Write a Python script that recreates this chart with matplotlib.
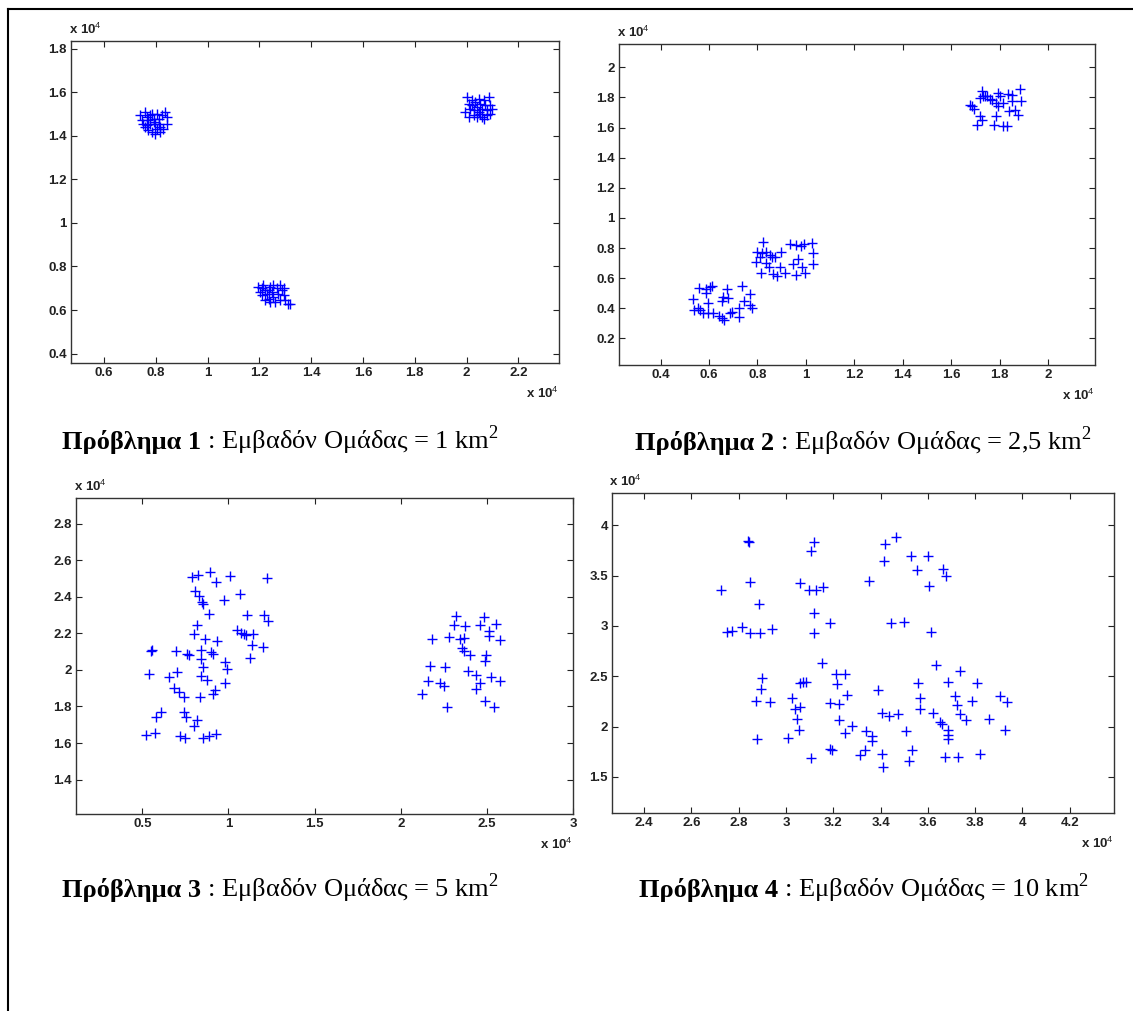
import matplotlib
matplotlib.use("Agg")
import matplotlib.pyplot as plt
from matplotlib.lines import Line2D

plt.rcParams['mathtext.fontset'] = 'custom'
plt.rcParams['mathtext.rm'] = 'Liberation Serif'
plt.rcParams['mathtext.sf'] = 'Liberation Sans'

# ---------------- data (units of 10^4) ----------------
# Problem 1
p1_ax = [0.739, 0.746, 0.758, 0.765, 0.771, 0.778, 0.784, 0.791, 0.797, 0.803, 0.810, 0.816, 0.823, 0.836,
         0.842, 0.842, 0.758, 0.771, 0.784, 0.797, 0.816, 0.829, 0.752, 0.765, 0.803, 0.778, 0.791, 0.810]
p1_ay = [1.494, 1.471, 1.509, 1.486, 1.471, 1.494, 1.502, 1.479, 1.456, 1.502, 1.479, 1.440, 1.494, 1.509,
         1.486, 1.456, 1.440, 1.425, 1.417, 1.410, 1.417, 1.433, 1.456, 1.448, 1.433, 1.456, 1.463, 1.456]
p1_bx = [2.002, 2.008, 2.014, 1.995, 2.021, 2.027, 2.034, 2.040, 2.047, 2.053, 2.060, 2.066, 2.072, 2.079,
         2.085, 2.092, 2.098, 2.027, 2.040, 2.053, 2.066, 2.079, 2.008, 2.021, 2.047, 2.060, 2.092]
p1_by = [1.578, 1.548, 1.525, 1.509, 1.540, 1.517, 1.555, 1.532, 1.509, 1.548, 1.525, 1.563, 1.540, 1.517,
         1.578, 1.540, 1.525, 1.494, 1.486, 1.502, 1.479, 1.494, 1.486, 1.563, 1.571, 1.486, 1.502]
p1_cx = [1.196, 1.202, 1.209, 1.215, 1.222, 1.228, 1.235, 1.241, 1.248, 1.254, 1.260, 1.267, 1.273, 1.280,
         1.286, 1.293, 1.299, 1.312, 1.222, 1.241, 1.280, 1.209, 1.254, 1.293, 1.235, 1.318]
p1_cy = [0.706, 0.683, 0.668, 0.714, 0.691, 0.676, 0.653, 0.706, 0.683, 0.660, 0.637, 0.699, 0.676, 0.714,
         0.691, 0.668, 0.645, 0.630, 0.645, 0.637, 0.645, 0.699, 0.714, 0.699, 0.691, 0.628]

# Problem 2
p2_ax = [1.727, 1.732, 1.739, 1.717, 1.770, 1.792, 1.800, 1.834, 1.886, 1.785, 1.792, 1.815, 1.852, 1.890,
         1.679, 1.687, 1.694, 1.717, 1.727, 1.706, 1.777, 1.815, 1.830, 1.785, 1.837, 1.864, 1.875, 1.762,
         1.852, 1.747]
p2_ay = [1.840, 1.807, 1.807, 1.796, 1.785, 1.829, 1.812, 1.823, 1.856, 1.763, 1.745, 1.763, 1.774, 1.774,
         1.752, 1.741, 1.725, 1.674, 1.648, 1.619, 1.614, 1.608, 1.608, 1.679, 1.707, 1.718, 1.685, 1.789,
         1.818, 1.807]
p2_bx = [0.823, 0.798, 0.817, 0.835, 0.850, 0.873, 0.896, 0.793, 0.835, 0.846, 0.816, 0.866, 0.881, 0.891,
         0.914, 0.933, 0.960, 0.979, 0.991, 1.027, 0.966, 0.948, 0.982, 0.960, 0.997, 1.031, 1.031, 0.858,
         0.810]
p2_by = [0.838, 0.776, 0.765, 0.776, 0.754, 0.743, 0.776, 0.710, 0.703, 0.677, 0.637, 0.628, 0.615, 0.677,
         0.637, 0.825, 0.821, 0.814, 0.825, 0.832, 0.729, 0.696, 0.677, 0.621, 0.637, 0.770, 0.692, 0.738,
         0.743]
p2_cx = [0.534, 0.539, 0.557, 0.564, 0.575, 0.587, 0.587, 0.594, 0.594, 0.605, 0.614, 0.617, 0.643, 0.655,
         0.659, 0.662, 0.655, 0.674, 0.677, 0.685, 0.695, 0.722, 0.725, 0.734, 0.745, 0.771, 0.771, 0.778,
         0.554]
p2_cy = [0.462, 0.388, 0.532, 0.388, 0.371, 0.526, 0.499, 0.437, 0.371, 0.539, 0.548, 0.366, 0.348, 0.448,
         0.477, 0.322, 0.333, 0.530, 0.470, 0.366, 0.377, 0.340, 0.399, 0.550, 0.448, 0.495, 0.422, 0.404,
         0.399]

# Problem 3
p3_ax = [0.788, 0.826, 0.891, 0.926, 1.011, 1.226, 0.806, 0.828, 0.847, 0.854, 0.974, 1.066, 0.887, 1.105,
         1.204, 1.230, 0.815, 0.799, 0.861, 0.933, 1.051, 1.073, 1.090, 1.099, 1.145, 1.134, 1.199, 1.123,
         0.548, 0.559, 0.697, 0.760, 0.773, 0.843, 0.898, 0.913, 0.839, 0.850, 0.979, 0.992, 0.537, 0.653,
         0.701, 0.843, 0.876, 0.981, 0.684, 0.712, 0.740, 0.832, 0.909, 0.924, 0.607, 0.581, 0.740, 0.751,
         0.815, 0.799, 0.520, 0.574, 0.716, 0.745, 0.854, 0.887, 0.926]
p3_ay = [2.508, 2.521, 2.536, 2.481, 2.516, 2.503, 2.430, 2.403, 2.370, 2.363, 2.381, 2.414, 2.308, 2.299,
         2.299, 2.266, 2.244, 2.197, 2.171, 2.157, 2.220, 2.202, 2.198, 2.189, 2.198, 2.135, 2.126, 2.065,
         2.105, 2.111, 2.102, 2.089, 2.084, 2.111, 2.096, 2.089, 2.060, 2.016, 2.042, 2.005, 1.978, 1.962,
         1.987, 1.965, 1.943, 1.929, 1.901, 1.879, 1.852, 1.852, 1.870, 1.892, 1.768, 1.743, 1.768, 1.743,
         1.728, 1.695, 1.642, 1.655, 1.637, 1.628, 1.628, 1.641, 1.652]
p3_bx = [2.318, 2.307, 2.373, 2.482, 2.460, 2.554, 2.510, 2.510, 2.183, 2.281, 2.344, 2.366, 2.576, 2.355,
         2.366, 2.401, 2.497, 2.489, 2.170, 2.257, 2.388, 2.438, 2.526, 2.574, 2.159, 2.226, 2.253, 2.460,
         2.438, 2.126, 2.270, 2.489, 2.541]
p3_by = [2.293, 2.248, 2.242, 2.288, 2.244, 2.253, 2.211, 2.188, 2.171, 2.178, 2.169, 2.175, 2.166, 2.120,
         2.106, 2.084, 2.084, 2.047, 2.020, 2.016, 1.992, 1.971, 1.961, 1.938, 1.938, 1.929, 1.914, 1.929,
         1.896, 1.870, 1.797, 1.832, 1.797]

# Problem 4
p4_x = [2.841, 2.844, 3.120, 3.105, 3.464, 3.419, 3.414, 3.528, 3.601, 3.553, 3.662, 3.676, 3.603, 3.349,
        2.847, 2.724, 3.060, 3.098, 3.125, 3.157, 2.886, 3.120, 3.184, 2.751, 2.773, 2.814, 2.848, 2.891,
        2.941, 3.120, 3.444, 3.497, 3.613, 3.153, 3.635, 3.736, 2.899, 2.896, 2.874, 2.933, 3.027, 3.038,
        3.060, 3.045, 3.053, 3.057, 3.072, 3.083, 3.210, 3.250, 3.217, 3.257, 3.187, 3.225, 3.222, 3.277,
        3.250, 3.389, 3.407, 3.434, 3.474, 3.558, 3.568, 3.568, 3.620, 3.650, 3.658, 3.683, 3.713, 3.722,
        3.737, 3.762, 3.785, 3.807, 3.860, 3.904, 3.934, 3.924, 3.337, 3.364, 3.364, 3.508, 3.685, 3.685,
        3.685, 2.878, 3.008, 3.184, 3.195, 3.105, 3.314, 3.334, 3.404, 3.411, 3.531, 3.520, 3.673, 3.728,
        3.819]
p4_y = [3.847, 3.831, 3.831, 3.748, 3.880, 3.817, 3.648, 3.691, 3.691, 3.552, 3.565, 3.492, 3.399, 3.452,
        3.442, 3.353, 3.426, 3.359, 3.359, 3.386, 3.216, 3.127, 3.034, 2.938, 2.954, 2.987, 2.928, 2.928,
        2.967, 2.928, 3.027, 3.044, 2.944, 2.635, 2.612, 2.552, 2.479, 2.370, 2.257, 2.247, 2.280, 2.171,
        2.191, 2.071, 1.971, 2.430, 2.440, 2.446, 2.523, 2.523, 2.423, 2.313, 2.237, 2.220, 2.064, 2.005,
        1.938, 2.363, 2.137, 2.108, 2.121, 2.430, 2.280, 2.174, 2.137, 2.048, 2.025, 2.446, 2.307, 2.214,
        2.124, 2.064, 2.257, 2.430, 2.071, 2.307, 2.240, 1.971, 1.958, 1.908, 1.859, 1.958, 1.965, 1.915,
        1.872, 1.872, 1.888, 1.782, 1.766, 1.683, 1.716, 1.766, 1.732, 1.600, 1.766, 1.659, 1.699, 1.699,
        1.732]

p1_xticks = [0.6, 0.8, 1.0, 1.2, 1.4, 1.6, 1.8, 2.0, 2.2]
p1_yticks = [0.4, 0.6, 0.8, 1.0, 1.2, 1.4, 1.6, 1.8]
p2_xticks = [0.4, 0.6, 0.8, 1.0, 1.2, 1.4, 1.6, 1.8, 2.0]
p2_yticks = [0.2, 0.4, 0.6, 0.8, 1.0, 1.2, 1.4, 1.6, 1.8, 2.0]
p3_xticks = [0.5, 1.0, 1.5, 2.0, 2.5, 3.0]
p3_yticks = [1.4, 1.6, 1.8, 2.0, 2.2, 2.4, 2.6, 2.8]
p4_xticks = [2.4, 2.6, 2.8, 3.0, 3.2, 3.4, 3.6, 3.8, 4.0, 4.2]
p4_yticks = [1.5, 2.0, 2.5, 3.0, 3.5, 4.0]

captions = [("Πρόβλημα 1", " : Εμβαδόν Ομάδας = 1 km$^{2}$"),
            ("Πρόβλημα 2", " : Εμβαδόν Ομάδας = 2,5 km$^{2}$"),
            ("Πρόβλημα 3", " : Εμβαδόν Ομάδας = 5 km$^{2}$"),
            ("Πρόβλημα 4", " : Εμβαδόν Ομάδας = 10 km$^{2}$")]


def fmt(v):
    s = ("%.1f" % v)
    if s.endswith(".0"):
        s = s[:-2]
    return s


W, H = 1133, 1011
fig = plt.figure(figsize=(W / 100, H / 100), dpi=100)


def px_rect(l, r, t, b):
    return [l / W, 1 - b / H, (r - l) / W, (b - t) / H]


panels = [
    dict(rect=px_rect(71, 559, 41, 363), xlim=(0.472, 2.357), ylim=(0.357, 1.835),
         xt=p1_xticks, yt=p1_yticks,
         series=[(p1_ax, p1_ay), (p1_bx, p1_by), (p1_cx, p1_cy)]),
    dict(rect=px_rect(619, 1095, 44, 365), xlim=(0.228, 2.194), ylim=(0.023, 2.155),
         xt=p2_xticks, yt=p2_yticks,
         series=[(p2_ax, p2_ay), (p2_bx, p2_by), (p2_cx, p2_cy)]),
    dict(rect=px_rect(76, 573, 498, 814), xlim=(0.115, 3.0), ylim=(1.212, 2.940),
         xt=p3_xticks, yt=p3_yticks,
         series=[(p3_ax, p3_ay), (p3_bx, p3_by)]),
    dict(rect=px_rect(612, 1114, 493, 813), xlim=(2.264, 4.387), ylim=(1.141, 4.322),
         xt=p4_xticks, yt=p4_yticks,
         series=[(p4_x, p4_y)]),
]

tick_font = dict(family='Liberation Sans', weight='bold', size=9.5, color='#222222')
for p in panels:
    ax = fig.add_axes(p['rect'])
    for xs, ys in p['series']:
        ax.plot(xs, ys, linestyle='none', marker='+', color='#0000ff',
                markersize=7.5, markeredgewidth=1.0)
    ax.set_xlim(*p['xlim'])
    ax.set_ylim(*p['ylim'])
    ax.set_xticks(p['xt'])
    ax.set_yticks(p['yt'])
    ax.set_xticklabels([fmt(v) for v in p['xt']], fontdict=tick_font)
    ax.set_yticklabels([fmt(v) for v in p['yt']], fontdict=tick_font)
    ax.tick_params(direction='in', length=4, width=0.8, top=True, right=True,
                   pad=3, colors='#222222')
    for s in ax.spines.values():
        s.set_color('#333333')
        s.set_linewidth(1.0)
    ax.text(-0.005, 1.012, r'x 10$^{\mathsf{4}}$', transform=ax.transAxes, ha='left', va='bottom',
            family='Liberation Sans', weight='bold', fontsize=9.5, color='#222222')
    ax.text(1.0, -0.072, r'x 10$^{\mathsf{4}}$', transform=ax.transAxes, ha='right', va='top',
            family='Liberation Sans', weight='bold', fontsize=9.5, color='#222222')

# captions
renderer = fig.canvas.get_renderer()
cap_pos = [(280, 449), (863, 450), (280, 897), (864, 897)]
for (bold, rest), (cx, by) in zip(captions, cap_pos):
    t1 = fig.text(0, 1 - by / H, bold, family='Liberation Serif', weight='bold', fontsize=19,
                  ha='left', va='baseline')
    t2 = fig.text(0, 1 - by / H, rest, family='Liberation Serif', fontsize=19,
                  ha='left', va='baseline')
    w1 = t1.get_window_extent(renderer).width
    w2 = t2.get_window_extent(renderer).width
    x0 = cx - (w1 + w2) / 2
    t1.set_x(x0 / W)
    t2.set_x((x0 + w1) / W)

# border lines
fig.add_artist(Line2D([8 / W, 1.0], [1 - 9 / H, 1 - 9 / H], color='black', lw=1.5,
                      transform=fig.transFigure))
fig.add_artist(Line2D([8 / W, 8 / W], [1 - 9 / H, 0.0], color='black', lw=1.5,
                      transform=fig.transFigure))

fig.savefig('out.png', dpi=100)
